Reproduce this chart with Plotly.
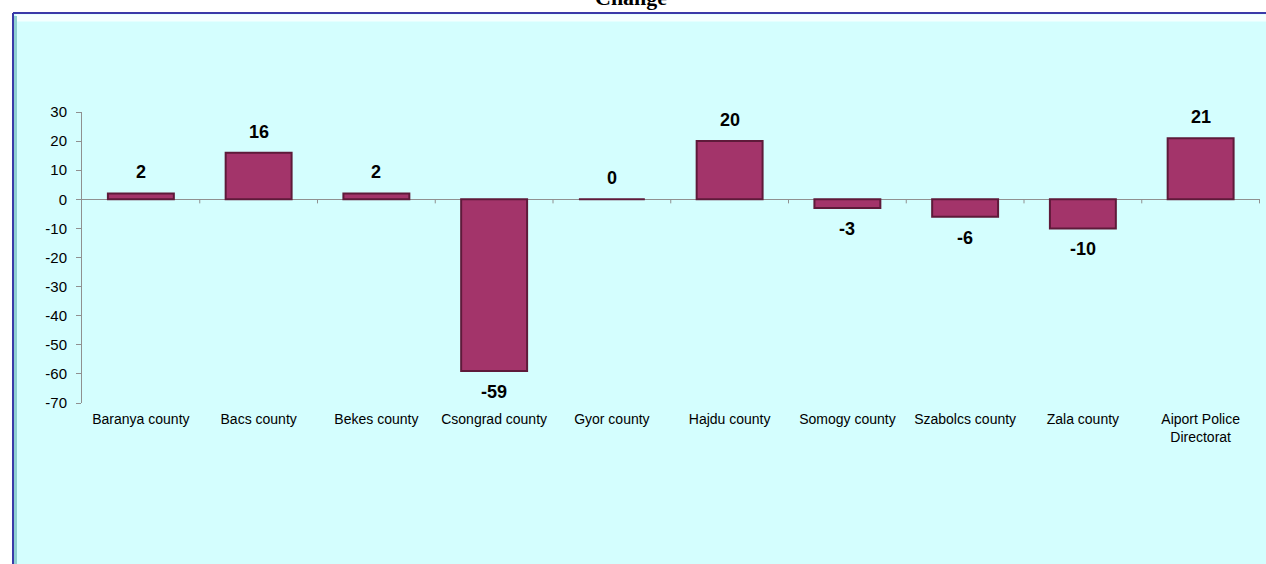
import plotly.graph_objects as go

categories = [
    "Baranya county", "Bacs county", "Bekes county", "Csongrad county",
    "Gyor county", "Hajdu county", "Somogy county", "Szabolcs county",
    "Zala county", "Aiport Police<br>Directorat",
]
change = [2, 16, 2, -59, 0, 20, -3, -6, -10, 21]
y_ticks = [30, 20, 10, 0, -10, -20, -30, -40, -50, -60, -70]

W, H = 1266, 564
L, R, T, B = 82, 6, 112, 161
pw, ph = W - L - R, H - T - B


def px_x(x):
    return (x - L) / pw


def px_y(y):
    return (H - B - y) / ph


bar_color = "#A3346A"
panel_bg = "#D4FEFE"
axis_grey = "#909090"

fig = go.Figure(go.Bar(
    x=categories,
    y=change,
    marker=dict(color=bar_color, line=dict(color="#5E1A3A", width=2)),
    width=0.56,
    hoverinfo="x+y",
))

for cat, v in zip(categories, change):
    fig.add_annotation(
        x=cat, y=v, text=f"<b>{v}</b>", showarrow=False,
        yshift=-21 if v < 0 else 21,
        font=dict(family="Liberation Sans, Arial", size=18, color="#000000"),
    )

# small tick marks on the zero line at category boundaries
for i in range(len(categories)):
    fig.add_shape(type="line", xref="x", yref="y",
                  x0=i + 0.5, x1=i + 0.5, y0=0, y1=-1.4,
                  line=dict(color=axis_grey, width=1))

# panel background with blue border on top and left
fig.add_shape(type="rect", xref="paper", yref="paper", layer="below",
              x0=px_x(13), x1=px_x(W + 5), y0=px_y(H + 5), y1=px_y(13),
              fillcolor=panel_bg, line=dict(width=0))
fig.add_shape(type="line", xref="paper", yref="paper", layer="below",
              x0=px_x(16), x1=px_x(W), y0=px_y(18), y1=px_y(18),
              line=dict(color="#F4FFFF", width=7))
fig.add_shape(type="line", xref="paper", yref="paper", layer="below",
              x0=px_x(15.5), x1=px_x(15.5), y0=px_y(16), y1=px_y(H),
              line=dict(color="#8FCFD2", width=3))
fig.add_shape(type="line", xref="paper", yref="paper",
              x0=px_x(13), x1=px_x(W), y0=px_y(13), y1=px_y(13),
              line=dict(color="#3A3AA8", width=2))
fig.add_shape(type="line", xref="paper", yref="paper",
              x0=px_x(13), x1=px_x(13), y0=px_y(13), y1=px_y(H),
              line=dict(color="#3A3AA8", width=2))

# title sits mostly above the top edge, as in the original
fig.add_annotation(
    xref="paper", yref="paper", x=px_x(631), y=px_y(12),
    xanchor="center", yanchor="bottom", showarrow=False,
    text="<b>Change</b>",
    font=dict(family="Liberation Serif, Times New Roman", size=22, color="#000000"),
)

fig.update_layout(
    width=W, height=H,
    margin=dict(l=L, r=R, t=T, b=B),
    paper_bgcolor="white",
    plot_bgcolor=panel_bg,
    showlegend=False,
    bargap=0.44,
    font=dict(family="Liberation Sans, Arial", size=14, color="#000000"),
    xaxis=dict(
        type="category", showgrid=False, showline=False, zeroline=False,
        ticks="", tickfont=dict(size=14), tickangle=0, ticklabelstandoff=6,
    ),
    yaxis=dict(
        range=[-70, 30], tickvals=y_ticks, ticktext=[str(v) for v in y_ticks],
        showgrid=False,
        showline=True, linecolor=axis_grey, linewidth=1,
        ticks="outside", ticklen=5, tickcolor=axis_grey,
        zeroline=True, zerolinecolor=axis_grey, zerolinewidth=1,
        tickfont=dict(size=15), ticklabelstandoff=6,
    ),
)

fig.write_html(
    "out.html",
    config={"displayModeBar": False},
    post_script="document.body.style.margin='0';",
)
